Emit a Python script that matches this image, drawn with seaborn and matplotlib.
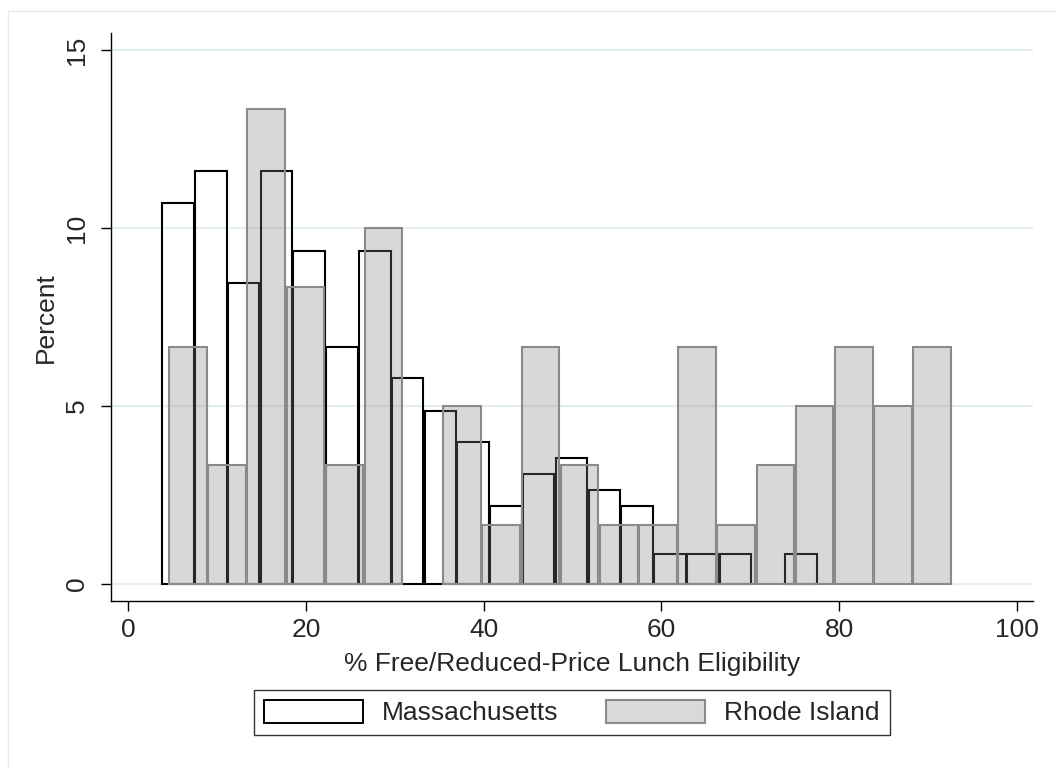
import numpy as np
import pandas as pd
import seaborn as sns
import matplotlib.pyplot as plt
from matplotlib.patches import Patch, Rectangle

# percent of schools per bin
ma_pct = [10.69, 11.59, 8.46, 11.59, 9.35, 6.66, 9.35, 5.78, 4.87, 3.98,
          2.19, 3.09, 3.55, 2.64, 2.20, 0.85, 0.85, 0.85, 0.0, 0.85]
ri_pct = [6.67, 3.33, 13.33, 8.33, 3.33, 10.0, 0.0, 5.0, 1.67, 6.67,
          3.33, 1.67, 1.67, 6.67, 1.67, 3.33, 5.0, 6.67, 5.0, 6.67]
ma_bin_start, ma_bin_width = 3.76, 3.69
ri_bin_start, ri_bin_width = 4.49, 4.41
states = ["Massachusetts", "Rhode Island"]
x_ticks = [0, 20, 40, 60, 80, 100]
y_ticks = [0, 5, 10, 15]


def bin_frame(pct, start, width):
    # one row per bin, weight = percent
    mids = start + width * (np.arange(len(pct)) + 0.5)
    return pd.DataFrame({"frl": mids, "pct": pct})


ma = bin_frame(ma_pct, ma_bin_start, ma_bin_width)
ri = bin_frame(ri_pct, ri_bin_start, ri_bin_width)

sns.set_style("white")
plt.rcParams["font.family"] = ["Liberation Sans", "DejaVu Sans"]

W, H = 1057, 769
fs = 19
fig = plt.figure(figsize=(W / 100, H / 100), dpi=100)
ax = fig.add_axes([110.7 / W, 1 - 601 / H, (1033 - 110.7) / W, (601 - 33.3) / H])

sns.histplot(data=ma, x="frl", weights="pct", bins=len(ma_pct),
             binrange=(ma_bin_start, ma_bin_start + ma_bin_width * len(ma_pct)),
             shrink=0.96, facecolor="none", edgecolor="black", linewidth=1.5, ax=ax)
sns.histplot(data=ri, x="frl", weights="pct", bins=len(ri_pct),
             binrange=(ri_bin_start, ri_bin_start + ri_bin_width * len(ri_pct)),
             shrink=0.96, facecolor=(0.51, 0.51, 0.51, 0.31), edgecolor="#8a8a8a",
             linewidth=1.5, ax=ax)

# empty bins: no outline
for p in ax.patches:
    if p.get_height() == 0:
        p.set_visible(False)

ax.set_xlim(-1.98, 101.83)
ax.set_ylim(-0.478, 15.47)
ax.set_xticks(x_ticks)
ax.set_xticklabels([str(t) for t in x_ticks])
ax.set_yticks(y_ticks)
ax.set_yticklabels([str(t) for t in y_ticks], rotation=90, va="center")

ax.yaxis.grid(True, color="#e4eef0", linewidth=1.5)
ax.xaxis.grid(False)
ax.set_axisbelow(True)

for s in ["top", "right"]:
    ax.spines[s].set_visible(False)
for s in ["left", "bottom"]:
    ax.spines[s].set_color("black")
    ax.spines[s].set_linewidth(1.0)

ax.tick_params(axis="both", direction="out", length=7.2, width=1.0, color="black",
               labelsize=fs, pad=5, left=True, bottom=True)
ax.tick_params(axis="y", pad=8.5)
ax.set_xlabel("% Free/Reduced-Price Lunch Eligibility", fontsize=fs, labelpad=7)
ax.set_ylabel("Percent", fontsize=fs, labelpad=5)

handles = [Patch(facecolor="white", edgecolor="black", linewidth=1.4),
           Patch(facecolor="#d9d9d9", edgecolor="#8a8a8a", linewidth=1.5)]
leg = fig.legend(handles, states, loc="center", bbox_to_anchor=(572 / W, 1 - 712.5 / H),
                 ncol=2, frameon=True, fancybox=False, edgecolor="black", fontsize=fs,
                 handlelength=3.75, handleheight=0.95, handletextpad=0.72,
                 columnspacing=1.8, borderpad=0.38, borderaxespad=0)
leg.get_frame().set_linewidth(1.0)

# faint outer graph-region border
fig.add_artist(Rectangle((7.5 / W, -0.1), 1.1, 1.1 - 11.5 / H, transform=fig.transFigure,
                         fill=False, edgecolor="#e3ecee", linewidth=1.0))

fig.savefig("out.png", dpi=100)
